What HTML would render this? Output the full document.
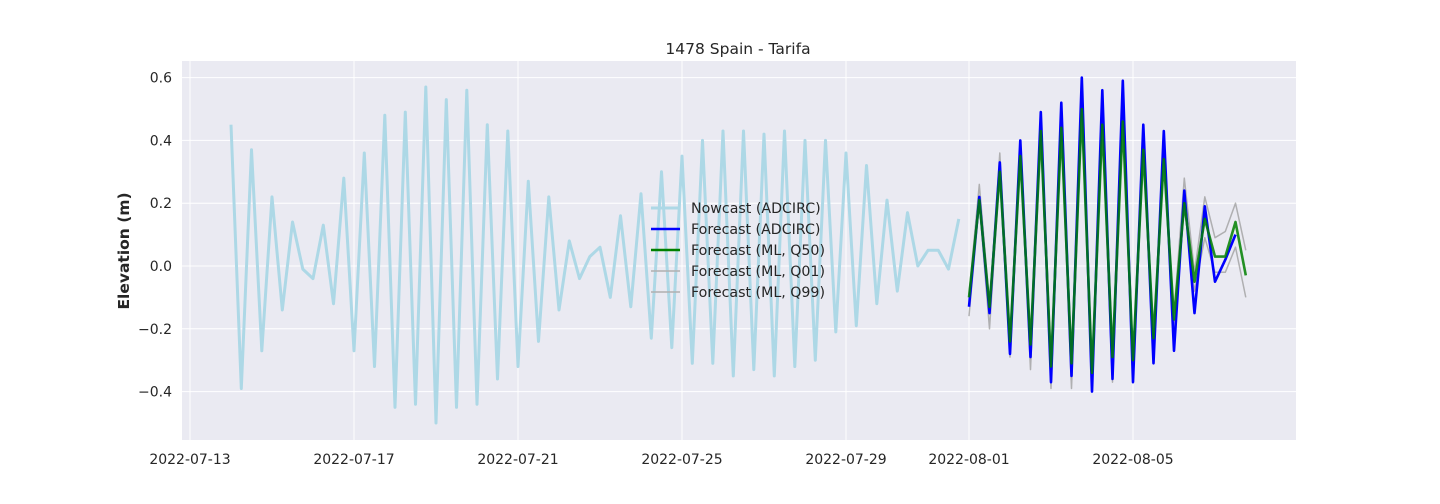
<!DOCTYPE html>
<html><head><meta charset="utf-8"><style>
body{margin:0;background:#fff;}
svg{display:block;font-family:"DejaVu Sans","Liberation Sans",sans-serif;}
</style></head><body>
<svg id="chart" width="1440" height="504"></svg>
<script>
const nowcastStartDay = 1;
const forecastStartDay = 19;
const stepDays = 0.25;
const nowcast = [0.45,-0.39,0.37,-0.27,0.22,-0.14,0.14,-0.01,-0.04,0.13,-0.12,0.28,-0.27,0.36,-0.32,0.48,-0.45,0.49,-0.44,0.57,-0.50,0.53,-0.45,0.56,-0.44,0.45,-0.36,0.43,-0.32,0.27,-0.24,0.22,-0.14,0.08,-0.04,0.03,0.06,-0.10,0.16,-0.13,0.23,-0.23,0.30,-0.26,0.35,-0.31,0.40,-0.31,0.43,-0.35,0.43,-0.33,0.42,-0.35,0.43,-0.32,0.40,-0.30,0.40,-0.21,0.36,-0.19,0.32,-0.12,0.21,-0.08,0.17,0.00,0.05,0.05,-0.01,0.15];
const fcAdcirc = [-0.13,0.22,-0.15,0.33,-0.28,0.40,-0.29,0.49,-0.37,0.52,-0.35,0.60,-0.40,0.56,-0.36,0.59,-0.37,0.45,-0.31,0.43,-0.27,0.24,-0.15,0.19,-0.05,0.02,0.10];
const fcQ50 = [-0.10,0.21,-0.13,0.30,-0.24,0.35,-0.25,0.43,-0.32,0.44,-0.31,0.50,-0.34,0.45,-0.29,0.46,-0.30,0.37,-0.23,0.34,-0.17,0.20,-0.05,0.15,0.03,0.03,0.14,-0.03];
const fcQ01 = [-0.16,0.20,-0.20,0.30,-0.29,0.35,-0.33,0.42,-0.39,0.43,-0.39,0.49,-0.37,0.44,-0.37,0.45,-0.33,0.36,-0.27,0.33,-0.20,0.19,-0.08,0.09,-0.02,-0.02,0.06,-0.10];
const fcQ99 = [-0.09,0.26,-0.12,0.36,-0.22,0.38,-0.24,0.46,-0.30,0.47,-0.29,0.52,-0.32,0.48,-0.27,0.50,-0.28,0.39,-0.21,0.36,-0.15,0.28,-0.02,0.22,0.09,0.11,0.20,0.05];
const yTicks = [-0.4,-0.2,0.0,0.2,0.4,0.6];
const yTickLabels = ["\u22120.4","\u22120.2","0.0","0.2","0.4","0.6"];
const xTickDays = [0,4,8,12,16,19,23];
const xTickLabels = ["2022-07-13","2022-07-17","2022-07-21","2022-07-25","2022-07-29","2022-08-01","2022-08-05"];

const L=182,R=1296,T=61,B=440;
const xs = d => 190 + d*41;
const ys = v => 266 - v*314;
const NS="http://www.w3.org/2000/svg";
const svg=document.getElementById('chart');
function mk(tag,attrs,parent){const e=document.createElementNS(NS,tag);for(const k in attrs)e.setAttribute(k,attrs[k]);(parent||svg).appendChild(e);return e;}

const bg=mk('rect',{x:L,y:T,width:R-L,height:B-T,fill:'#eaeaf2'});



yTicks.forEach((v,i)=>{
  const g=mk('line',{x1:L,x2:R,y1:ys(v),y2:ys(v),stroke:'#fff','stroke-width':1});
  
  
  const t=mk('text',{x:L-10,y:ys(v)+5,'text-anchor':'end','font-size':14,fill:'#262626'});
  t.textContent=yTickLabels[i];
  
  
});
xTickDays.forEach((d,i)=>{
  const g=mk('line',{x1:xs(d),x2:xs(d),y1:T,y2:B,stroke:'#fff','stroke-width':1});
  
  
  const t=mk('text',{x:xs(d),y:464,'text-anchor':'middle','font-size':14,fill:'#262626'});
  t.textContent=xTickLabels[i];
  
  
});

function series(arr,start,color,w,name,op){
  const pts=arr.map((v,i)=>xs(start+i*stepDays).toFixed(1)+','+ys(v).toFixed(1)).join(' ');
  const p=mk('polyline',{points:pts,fill:'none',stroke:color,'stroke-width':w,'stroke-linejoin':'round','stroke-opacity':op||1});
  
  
}
series(nowcast,nowcastStartDay,'#add8e6',3,'nowcast-adcirc-line');
series(fcQ01,forecastStartDay,'#a0a0a0',1.5,'forecast-ml-q01-line',0.8);
series(fcQ99,forecastStartDay,'#a0a0a0',1.5,'forecast-ml-q99-line',0.8);
series(fcAdcirc,forecastStartDay,'#0000ff',2.6,'forecast-adcirc-line');
series(fcQ50,forecastStartDay,'#008000',2.6,'forecast-ml-q50-line',0.85);

const title=mk('text',{x:738,y:54,'text-anchor':'middle','font-size':15.5,fill:'#262626'});
title.textContent='1478 Spain - Tarifa';


const yl=mk('text',{x:0,y:0,transform:'translate(129,251) rotate(-90)','text-anchor':'middle','font-size':15.5,'font-weight':'bold',fill:'#262626'});
yl.textContent='Elevation (m)';



const legend=[['Nowcast (ADCIRC)','#add8e6',3],['Forecast (ADCIRC)','#0000ff',2.6],['Forecast (ML, Q50)','#008000',2.6],['Forecast (ML, Q01)','#b0b0b0',1.5],['Forecast (ML, Q99)','#b0b0b0',1.5]];
legend.forEach((e,i)=>{
  const y=208+i*21;
  const ln=mk('line',{x1:651,x2:680,y1:y,y2:y,stroke:e[1],'stroke-width':e[2]});
  
  
  const t=mk('text',{x:691,y:y+5,'font-size':14.2,fill:'#262626'});
  t.textContent=e[0];
  
  
});
</script>
</body></html>
